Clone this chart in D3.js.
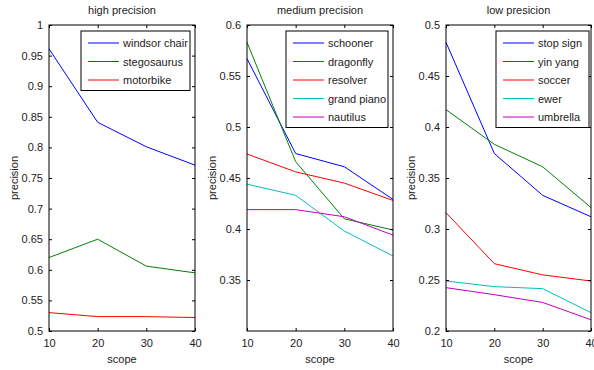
<!DOCTYPE html>
<html>
<head>
<meta charset="utf-8">
<script src="https://cdn.jsdelivr.net/npm/d3@7"></script>
<style>
  body { margin: 0; background: #fff; }
  text { font-family: "Liberation Sans", Arial, sans-serif; fill: #222; }
</style>
</head>
<body>
<svg id="chart" width="594" height="370"></svg>
<script>
// scope values on the x axis
const scopes = [10, 20, 30, 40]

// high precision panel
const highNames = ['windsor chair', 'stegosaurus', 'motorbike']
const highValues = [
  [0.961, 0.841, 0.801, 0.771],
  [0.620, 0.650, 0.606, 0.595],
  [0.530, 0.5235, 0.5235, 0.522]
]
const highTicks = [0.5, 0.55, 0.6, 0.65, 0.7, 0.75, 0.8, 0.85, 0.9, 0.95, 1]

// medium precision panel
const medNames = ['schooner', 'dragonfly', 'resolver', 'grand piano', 'nautilus']
const medValues = [
  [0.567, 0.474, 0.461, 0.429],
  [0.583, 0.466, 0.410, 0.399],
  [0.4735, 0.456, 0.445, 0.428],
  [0.444, 0.433, 0.398, 0.3735],
  [0.419, 0.419, 0.412, 0.394]
]
const medTicks = [0.35, 0.4, 0.45, 0.5, 0.55, 0.6]

// low precision panel
const lowNames = ['stop sign', 'yin yang', 'soccer', 'ewer', 'umbrella']
const lowValues = [
  [0.483, 0.374, 0.333, 0.312],
  [0.417, 0.383, 0.361, 0.321],
  [0.316, 0.266, 0.255, 0.249],
  [0.249, 0.2435, 0.2415, 0.218],
  [0.2425, 0.2356, 0.228, 0.211]
]
const lowTicks = [0.2, 0.25, 0.3, 0.35, 0.4, 0.45, 0.5]

const colors = ['#0000ff', '#008000', '#ff0000', '#00bfbf', '#bf00bf']

const panels = [
  { title: 'high precision', names: highNames, values: highValues, ticks: highTicks,
    domain: [0.5, 1], left: 49, right: 195, legend: { x: 81, w: 109 } },
  { title: 'medium precision', names: medNames, values: medValues, ticks: medTicks,
    domain: [0.3, 0.6], left: 247, right: 393, legend: { x: 286, w: 102 } },
  { title: 'low presicion', names: lowNames, values: lowValues, ticks: lowTicks,
    domain: [0.2, 0.5], left: 446, right: 591, legend: { x: 496, w: 93 } }
]

const TOP = 25, BOTTOM = 331
const svg = d3.select('#chart')

panels.forEach(p => {
  const x = d3.scaleLinear().domain([10, 40]).range([p.left, p.right])
  const y = d3.scaleLinear().domain(p.domain).range([BOTTOM, TOP])
  const g = svg.append('g')

  // series lines (drawn first so the frame sits on top)
  const line = d3.line().x((d, i) => x(scopes[i])).y(d => y(d))
  p.values.forEach((vals, i) => {
    g.append('path')
      .attr('d', line(vals))
      .attr('fill', 'none')
      .attr('stroke', colors[i])
      .attr('stroke-width', 1)
  })

  // box frame
  g.append('rect')
    .attr('x', p.left).attr('y', TOP)
    .attr('width', p.right - p.left).attr('height', BOTTOM - TOP)
    .attr('fill', 'none').attr('stroke', '#000').attr('stroke-width', 1)

  // inward ticks on all four sides
  const fmt = d => String(+d.toFixed(2))
  const axL = d3.axisLeft(y).tickValues(p.ticks).tickSize(-3).tickPadding(6).tickFormat(fmt)
  const axR = d3.axisRight(y).tickValues(p.ticks).tickSize(-3).tickFormat('')
  const axB = d3.axisBottom(x).tickValues(scopes).tickSize(-3).tickPadding(8).tickFormat(d3.format('d'))
  const axT = d3.axisTop(x).tickValues(scopes).tickSize(-3).tickFormat('')

  const styleAxis = sel => {
    sel.select('.domain').remove()
    sel.selectAll('line').attr('stroke', '#000')
    sel.selectAll('text').style('font-size', '11px').attr('fill', '#222')
  }
  g.append('g').attr('transform', `translate(${p.left},0)`).call(axL).call(styleAxis)
  g.append('g').attr('transform', `translate(${p.right},0)`).call(axR).call(styleAxis)
  g.append('g').attr('transform', `translate(0,${BOTTOM})`).call(axB).call(styleAxis)
  g.append('g').attr('transform', `translate(0,${TOP})`).call(axT).call(styleAxis)

  // titles and axis labels
  const cx = (p.left + p.right) / 2
  g.append('text').attr('x', cx).attr('y', 14)
    .attr('text-anchor', 'middle').style('font-size', '11px').text(p.title)
  g.append('text').attr('x', cx).attr('y', 363)
    .attr('text-anchor', 'middle').style('font-size', '11px').text('scope')
  g.append('text')
    .attr('transform', `translate(${p.left - 31},${(TOP + BOTTOM) / 2}) rotate(-90)`)
    .attr('text-anchor', 'middle').style('font-size', '11px').text('precision')

  // legend
  const rowH = 18.5
  const lg = g.append('g').attr('transform', `translate(${p.legend.x},31)`)
  lg.append('rect')
    .attr('width', p.legend.w).attr('height', p.names.length * rowH + 4)
    .attr('fill', '#fff').attr('stroke', '#000').attr('stroke-width', 1)
  p.names.forEach((name, i) => {
    const ry = 12 + i * rowH
    lg.append('line').attr('x1', 7).attr('x2', 38).attr('y1', ry).attr('y2', ry)
      .attr('stroke', colors[i]).attr('stroke-width', 1)
    lg.append('text').attr('x', 42).attr('y', ry + 4)
      .style('font-size', '11px').text(name)
  })
})
</script>
</body>
</html>
